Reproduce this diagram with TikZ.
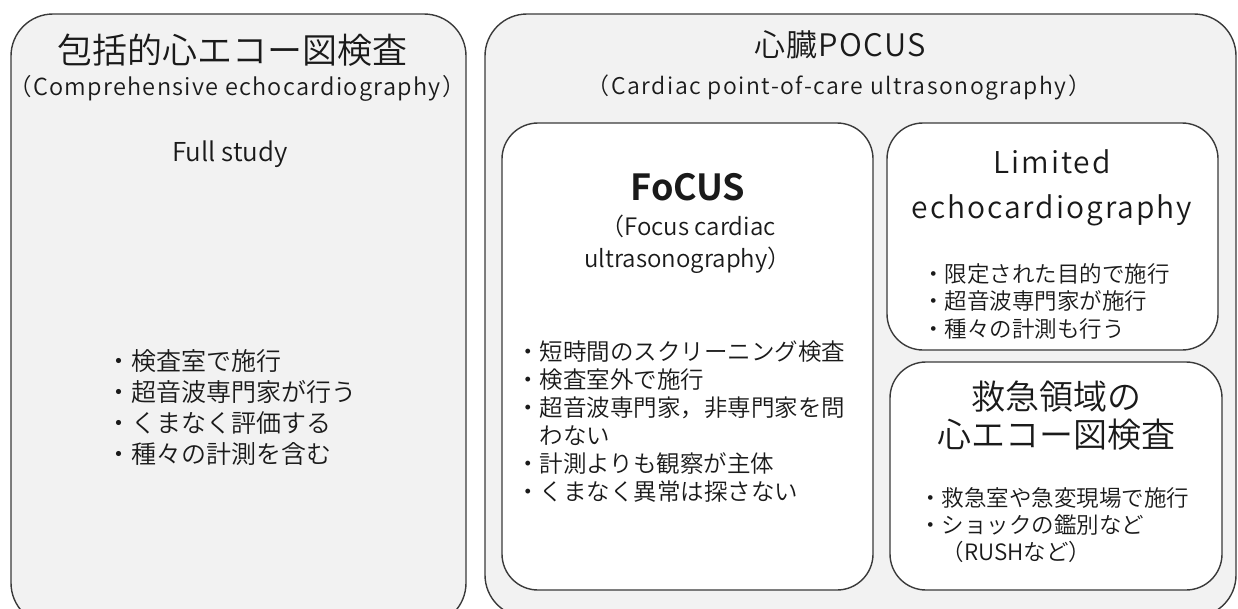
\documentclass[tikz,border=0pt]{standalone}
\usepackage{fontspec}
\setmainfont{Noto Sans CJK JP}[UprightFont=* DemiLight, BoldFont=* Bold]
\definecolor{bg}{HTML}{F2F2F2}
\definecolor{edge}{HTML}{3A3A3A}
\definecolor{ink}{HTML}{1A1A1A}
\newcommand{\fsz}[2]{\fontsize{#1}{#2}\selectfont}
\begin{document}
\begin{tikzpicture}[x=1pt,y=-1pt,
  outerbox/.style={draw=edge, line width=1.4pt, fill=bg, rounded corners=42pt},
  innerbox/.style={draw=edge, line width=1.4pt, fill=white, rounded corners=36pt},
  txt/.style={inner sep=0pt, align=center, text=ink},
  lst/.style={inner sep=0pt, align=left, anchor=west, text=ink}]
\useasboundingbox (0,0) rectangle (1238,608);
\clip (0,0) rectangle (1238,608);
% boxes
\draw[outerbox] (11,14) rectangle (466,625);
\draw[outerbox] (485,14) rectangle (1236,617);
\draw[innerbox] (502,123) rectangle (873,590);
\draw[innerbox] (887,123) rectangle (1218,350);
\draw[innerbox] (890,362) rectangle (1222,590);
% left box texts
\node[txt, font=\fsz{35}{40}] (ctitle) at (232,50) {包括的心エコー図検査};
\node[txt, font=\fsz{23.5}{28}\addfontfeature{LetterSpace=5.5}] (csub) at (237,88) {（Comprehensive echocardiography）};
\node[txt, font=\fsz{26}{30}] (cfull) at (230,154) {Full study};
\node[lst, font=\fsz{25}{31}] (clist) at (106,408) {・検査室で施行\\・超音波専門家が行う\\・くまなく評価する\\・種々の計測を含む};
% right outer texts
\node[txt, font=\fsz{31}{38}\addfontfeature{LetterSpace=4}] (ptitle) at (840,45) {心臓POCUS};
\node[txt, font=\fsz{23}{28}\addfontfeature{LetterSpace=6.5}] (psub) at (839,88) {（Cardiac point-of-care ultrasonography）};
% FoCUS
\node[txt, font=\fsz{36}{40}\bfseries] (ftitle) at (688,187) {FoCUS};
\node[txt, font=\fsz{24}{32}] (fsub) at (688,244) {（Focus cardiac\\ultrasonography）};
\node[lst, font=\fsz{23.5}{28}] (flist) at (516,422) {・短時間のスクリーニング検査\\・検査室外で施行\\・超音波専門家，非専門家を問\\\hspace*{1em}わない\\・計測よりも観察が主体\\・くまなく異常は探さない};
% Limited
\node[txt, font=\fsz{30}{45}\addfontfeature{LetterSpace=6.5}] (ltitle) at (1052,188) {Limited\\echocardiography};
\node[lst, font=\fsz{22.5}{27.5}] (llist) at (922,301) {・限定された目的で施行\\・超音波専門家が施行\\・種々の計測も行う};
% Emergency
\node[txt, font=\fsz{34}{38}] (etitle) at (1056,416) {救急領域の\\心エコー図検査};
\node[lst, font=\fsz{22.5}{27}] (elist) at (919,525) {・救急室や急変現場で施行\\・ショックの鑑別など\\\hspace*{1em}（RUSHなど）};
\end{tikzpicture}
\end{document}
